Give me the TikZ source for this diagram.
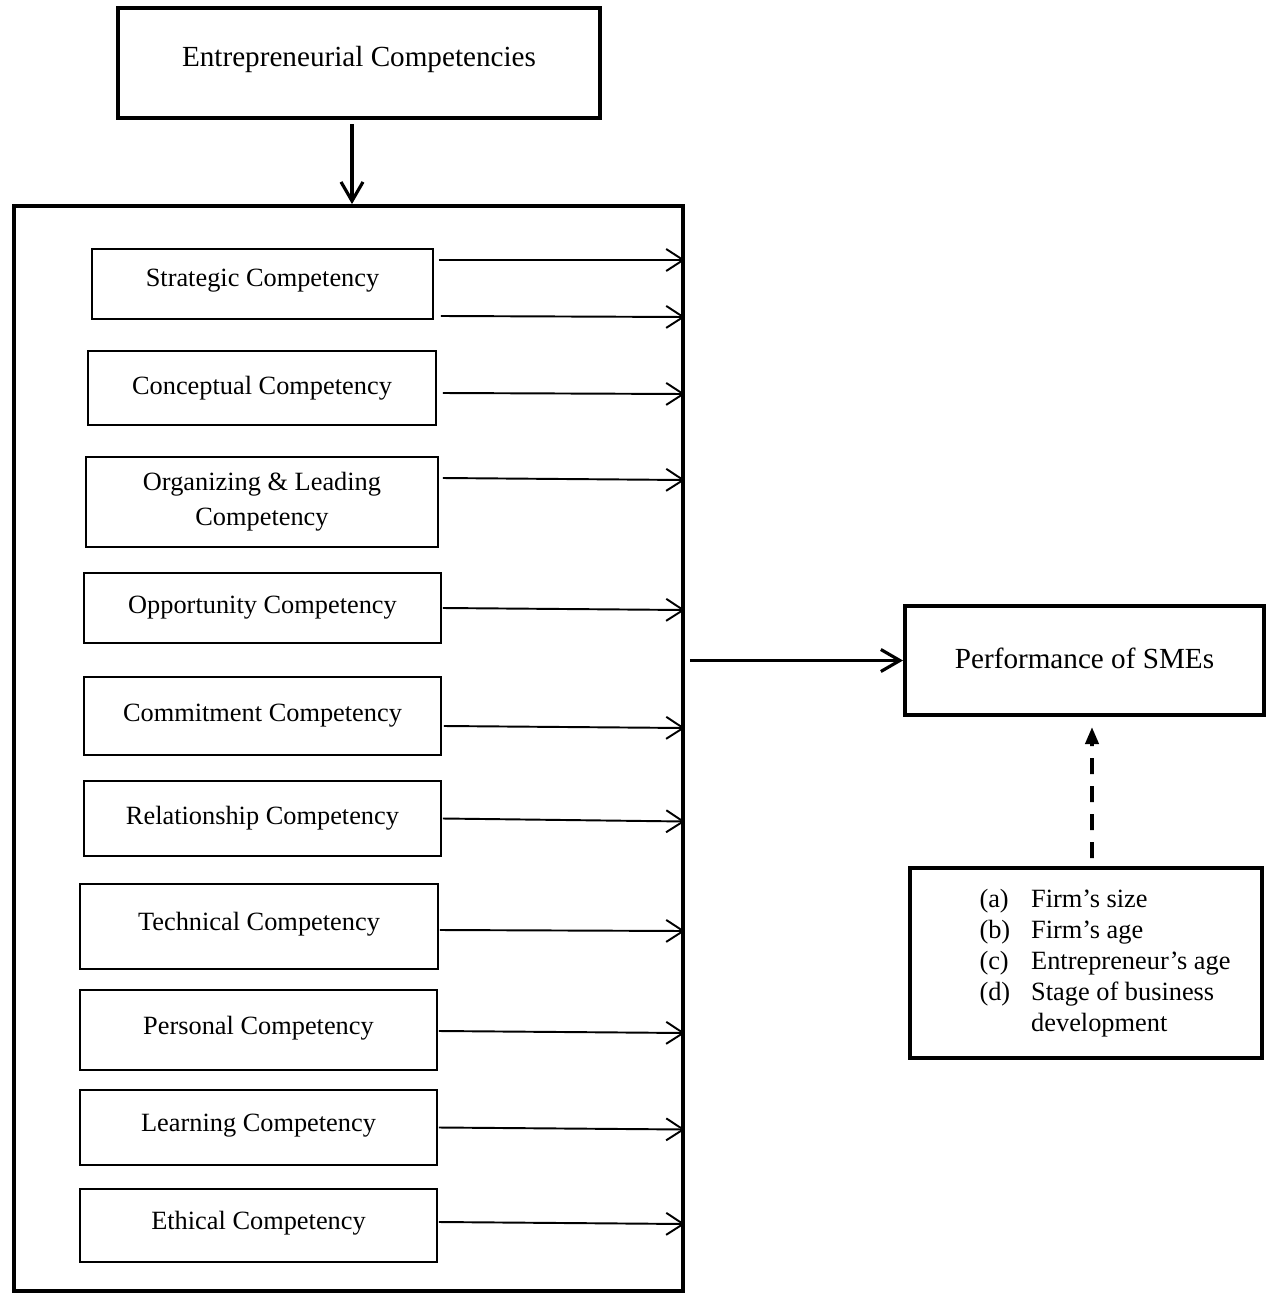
\documentclass[tikz,border=0pt]{standalone}
\usepackage{fontspec}
\setmainfont{Liberation Serif}
\usepackage{tikz}
\usetikzlibrary{arrows.meta}
\usetikzlibrary{positioning}

\tikzset{
  heavybox/.style={draw, rectangle, line width=2.3pt, inner sep=0, align=center, font=\fontsize{16.6}{20}\selectfont},
  compbox/.style={draw, rectangle, line width=1.1pt, inner sep=0, align=center, font=\fontsize{15}{19.9}\selectfont},
  linkarrow/.style={-{Straight Barb[length=0.34cm, width=0.44cm]}, line width=1.1pt},
  mainarrow/.style={-{Straight Barb[length=0.38cm, width=0.44cm]}, line width=1.8pt},
  dasharrow/.style={-{Triangle[length=0.34cm, width=0.26cm]}, line width=2.2pt, dash pattern=on 0.32cm off 0.24cm}
}

\begin{document}
\begin{tikzpicture}[x=0.02cm, y=-0.02cm]
            \useasboundingbox (0,0) rectangle (1271,1295);

            % Entrepreneurial Competencies
            \node[heavybox, minimum width=9.64cm, minimum height=2.2cm] (ec) at (359,63) {\raisebox{0.28cm}{Entrepreneurial Competencies}};

            % Outer frame holding the competencies
            \node[draw, rectangle, line width=2.3pt, minimum width=13.38cm, minimum height=21.7cm] (frame) at (348.5,748.5) {};

            % Arrow into the frame
            \draw[mainarrow] ([xshift=-0.14cm, yshift=-0.08cm]ec.south) -- ([xshift=-0.14cm]ec.south |- frame.north);

            % Competencies
            \node[compbox, minimum width=6.82cm, minimum height=1.4cm] (strat) at (262.5,284) {\raisebox{0.24cm}{Strategic Competency}};
            \node[compbox, minimum width=6.96cm, minimum height=1.48cm] (concept) at (262,388) {Conceptual Competency};
            \node[compbox, minimum width=7.04cm, minimum height=1.8cm] (organize) at (262,502) {Organizing \& Leading\\ Competency};
            \node[compbox, minimum width=7.14cm, minimum height=1.4cm] (opport) at (262.5,608) {Opportunity Competency};
            \node[compbox, minimum width=7.14cm, minimum height=1.56cm] (commit) at (262.5,716) {Commitment Competency};
            \node[compbox, minimum width=7.14cm, minimum height=1.5cm] (relation) at (262.5,818.5) {Relationship Competency};
            \node[compbox, minimum width=7.16cm, minimum height=1.7cm] (techn) at (259,926.5) {\raisebox{0.2cm}{Technical Competency}};
            \node[compbox, minimum width=7.14cm, minimum height=1.6cm] (person) at (258.5,1030) {\raisebox{0.2cm}{Personal Competency}};
            \node[compbox, minimum width=7.14cm, minimum height=1.5cm] (learn) at (258.5,1127.5) {\raisebox{0.2cm}{Learning Competency}};
            \node[compbox, minimum width=7.14cm, minimum height=1.46cm] (ethic) at (258.5,1225.5) {\raisebox{0.2cm}{Ethical Competency}};

            % Arrows from competencies to the frame
            \draw[linkarrow] ([xshift=0.1cm, yshift=0.48cm]strat.east) -- ([yshift=0.48cm]strat.east -| frame.east);
            \draw[linkarrow] ([xshift=0.14cm, yshift=-0.64cm]strat.east) -- ([yshift=-0.66cm]strat.east -| frame.east);
            \draw[linkarrow] ([xshift=0.12cm, yshift=-0.1cm]concept.east) -- ([yshift=-0.12cm]concept.east -| frame.east);
            \draw[linkarrow] ([xshift=0.08cm, yshift=0.48cm]organize.east) -- ([yshift=0.44cm]organize.east -| frame.east);
            \draw[linkarrow] ([xshift=0.02cm]opport.east) -- ([yshift=-0.04cm]opport.east -| frame.east);
            \draw[linkarrow] ([xshift=0.04cm, yshift=-0.2cm]commit.east) -- ([yshift=-0.24cm]commit.east -| frame.east);
            \draw[linkarrow] ([xshift=0.02cm]relation.east) -- ([yshift=-0.06cm]relation.east -| frame.east);
            \draw[linkarrow] ([xshift=0.02cm, yshift=-0.07cm]techn.east) -- ([yshift=-0.09cm]techn.east -| frame.east);
            \draw[linkarrow] ([xshift=0.02cm, yshift=-0.02cm]person.east) -- ([yshift=-0.06cm]person.east -| frame.east);
            \draw[linkarrow] ([xshift=0.02cm]learn.east) -- ([yshift=-0.04cm]learn.east -| frame.east);
            \draw[linkarrow] ([xshift=0.02cm, yshift=0.07cm]ethic.east) -- ([yshift=0.03cm]ethic.east -| frame.east);

            % Performance of SMEs
            \node[heavybox, minimum width=7.18cm, minimum height=2.18cm] (perf) at (1084.5,660.5) {\raisebox{0.1cm}{Performance of SMEs}};
            \draw[mainarrow] ([xshift=0.1cm]frame.east |- perf.west) -- (perf.west);

            % Firm and entrepreneur factors
            \node[draw, rectangle, line width=2.3pt, inner sep=0, minimum width=7.04cm, minimum height=3.8cm, font=\fontsize{15}{17.6}\selectfont] (factors) at (1086,963)
              {\hspace*{0.76cm}\begin{tabular}{@{}l@{\hspace{0.42cm}}l@{}}
                (a) & Firm’s size\\
                (b) & Firm’s age\\
                (c) & Entrepreneur’s age\\
                (d) & Stage of business\\
                    & development
              \end{tabular}};

            % Dashed arrow to performance
            \draw[dasharrow] ([xshift=0.12cm, yshift=0.16cm]factors.north) -- ([xshift=0.15cm, yshift=-0.2cm]perf.south);
        \end{tikzpicture}
\end{document}
